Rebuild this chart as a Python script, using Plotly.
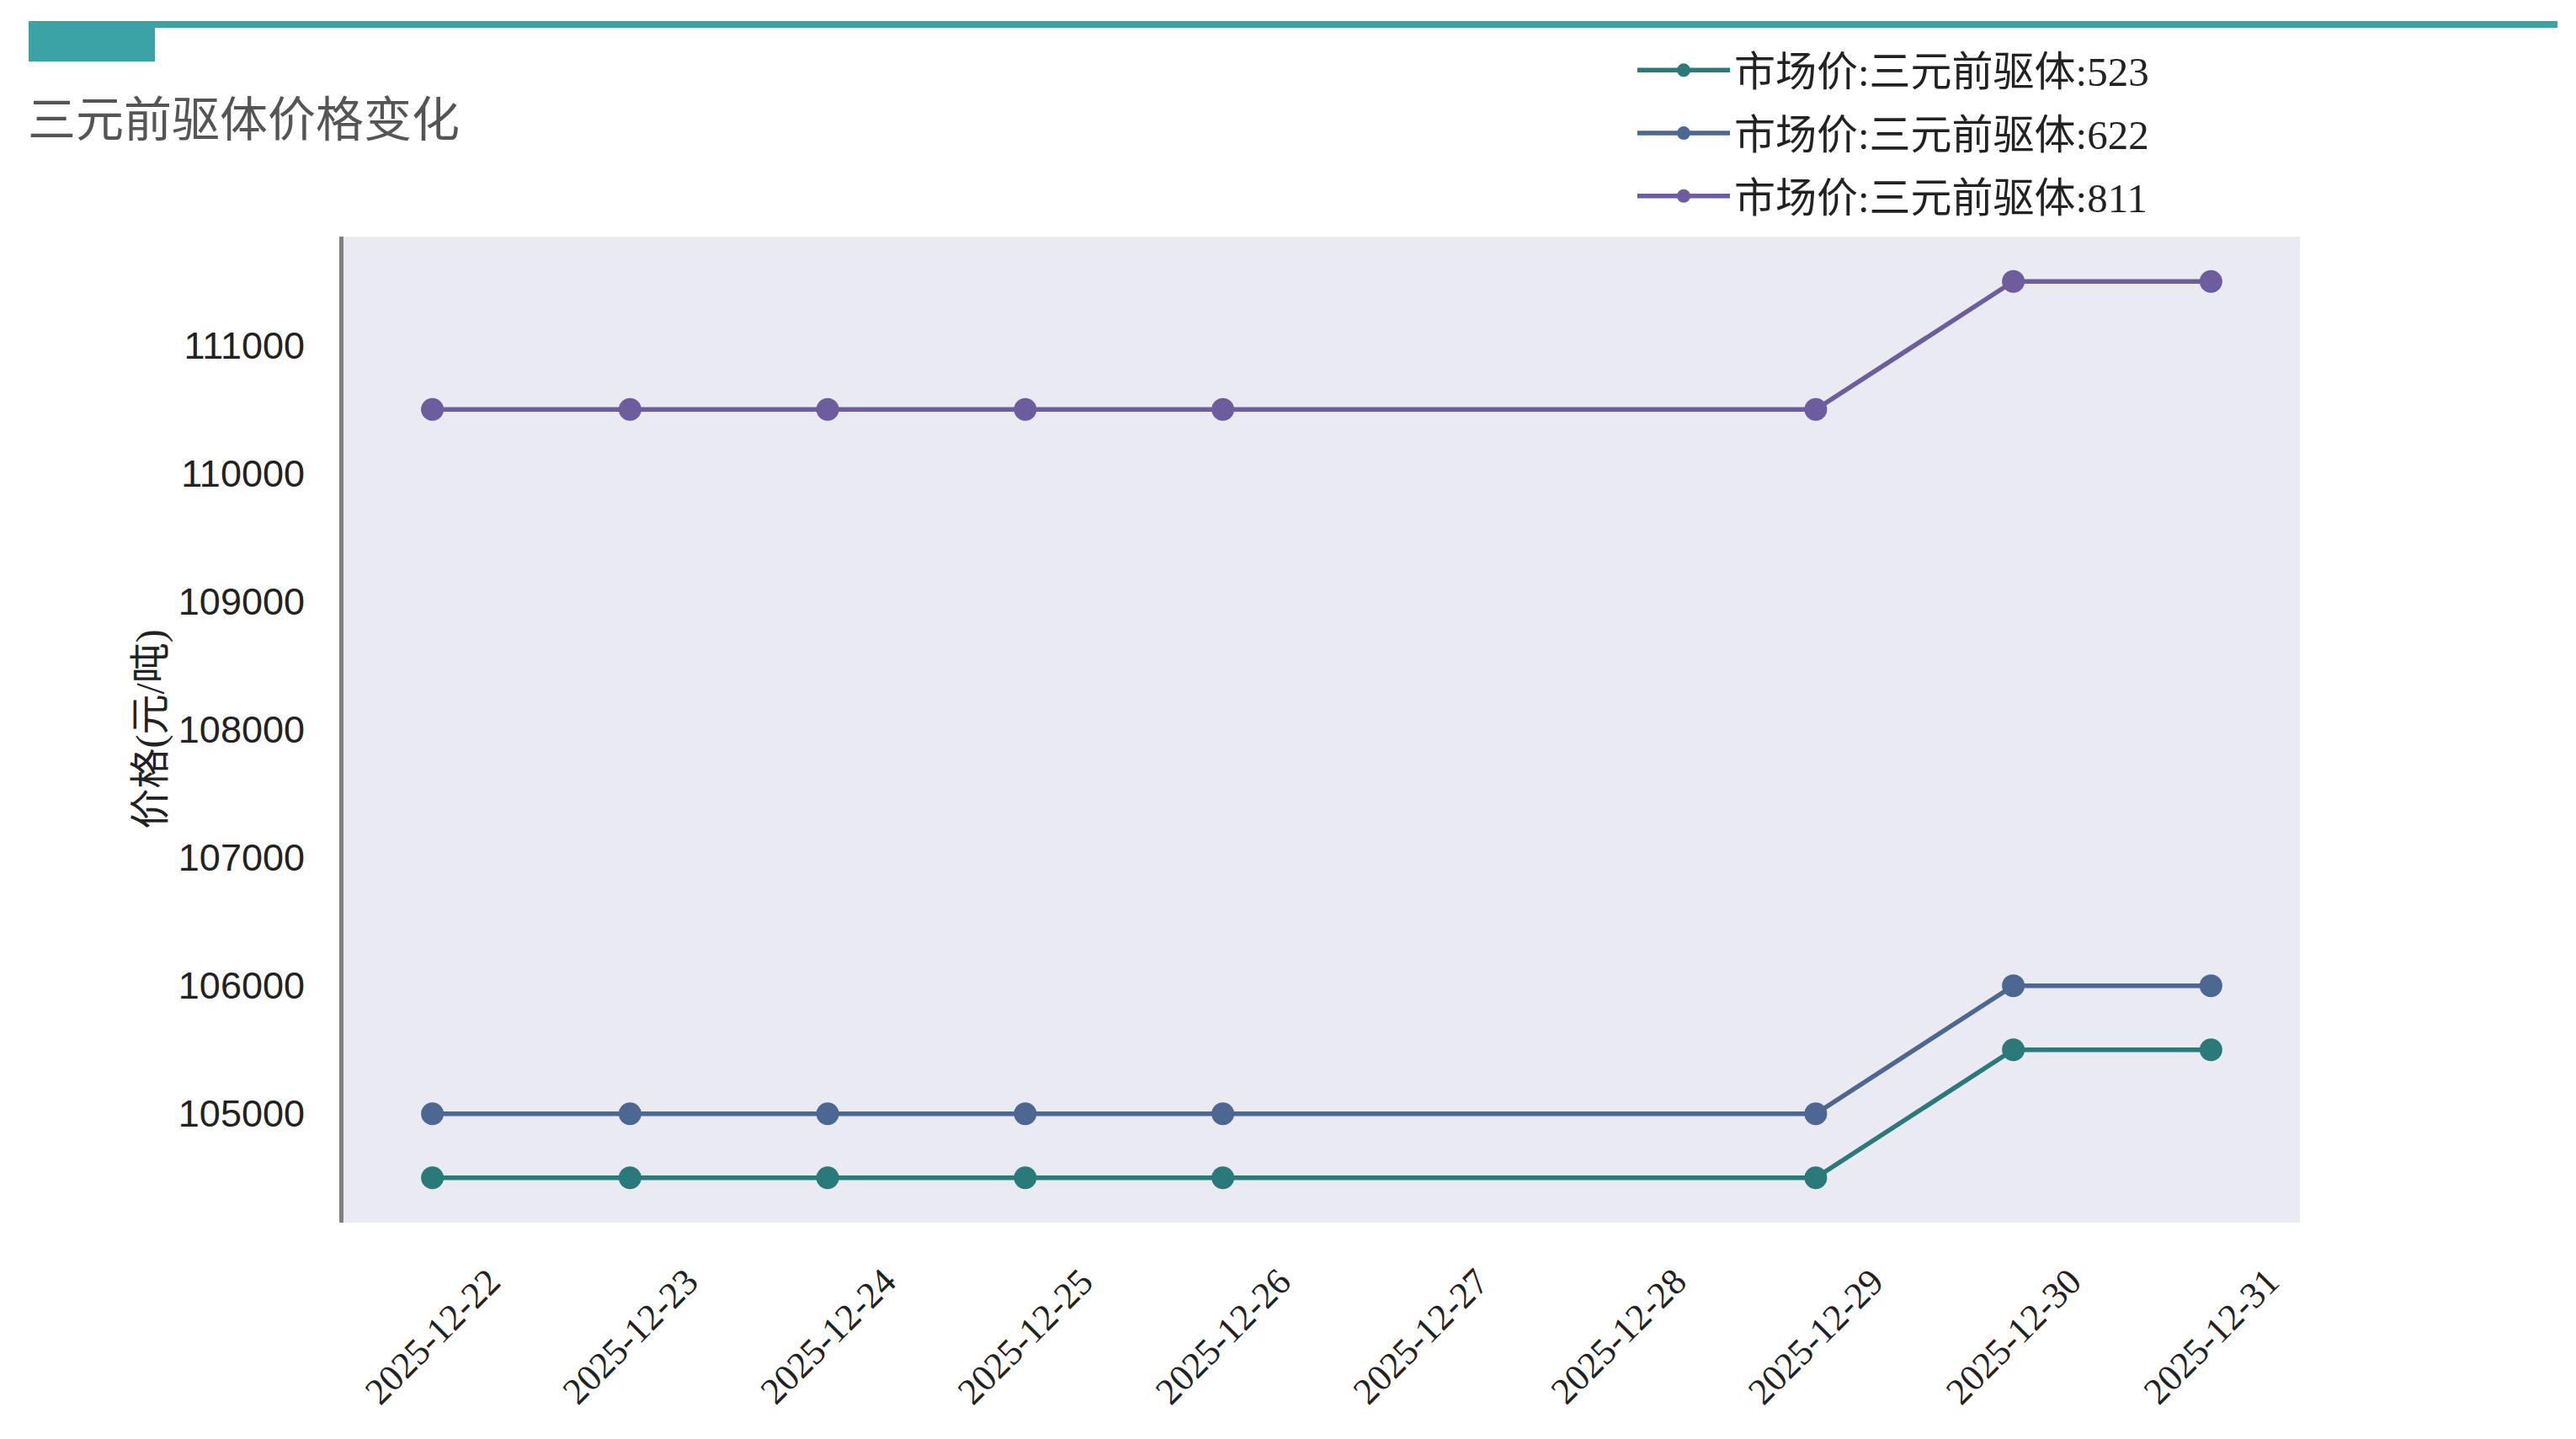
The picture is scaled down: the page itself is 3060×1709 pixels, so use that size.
import plotly.graph_objects as go

# ---- data ----
dates = ["2025-12-22", "2025-12-23", "2025-12-24", "2025-12-25", "2025-12-26",
         "2025-12-29", "2025-12-30", "2025-12-31"]
price_523 = [104500, 104500, 104500, 104500, 104500, 104500, 105500, 105500]
price_622 = [105000, 105000, 105000, 105000, 105000, 105000, 106000, 106000]
price_811 = [110500, 110500, 110500, 110500, 110500, 110500, 111500, 111500]
series_names = ["市场价:三元前驱体:523", "市场价:三元前驱体:622", "市场价:三元前驱体:811"]
series_colors = ["#2B7A7B", "#4B6792", "#6D5C9E"]
tick_dates = ["2025-12-22", "2025-12-23", "2025-12-24", "2025-12-25", "2025-12-26",
              "2025-12-27", "2025-12-28", "2025-12-29", "2025-12-30", "2025-12-31"]
y_ticks = [105000, 106000, 107000, 108000, 109000, 110000, 111000]
title_text = "三元前驱体价格变化"
y_title = "价格(元/吨)"

W, H = 3060, 1709
OX, OY = 4, 8  # page body offset
L, R, T, B = 404 - OX, 2728 - OX, 281 - OY, 1452 - OY

fig = go.Figure()
for name, vals, col in zip(series_names, [price_523, price_622, price_811], series_colors):
    fig.add_trace(go.Scatter(
        x=dates, y=vals, name=name, mode="lines+markers",
        line=dict(color=col, width=5.5),
        marker=dict(color=col, size=27),
        legendgroup=name,
    ))

serif = "Liberation Serif, Noto Sans CJK SC, serif"

fig.update_layout(
    width=W, height=H,
    margin=dict(l=0, r=0, t=0, b=0),
    paper_bgcolor="white",
    plot_bgcolor="#EAEAF2",
    showlegend=True,
    legend=dict(
        x=(1936 - OX) / W, y=1 - (45 - OY) / H, xanchor="left", yanchor="top",
        font=dict(family=serif, size=49, color="#222222"),
        bgcolor="rgba(0,0,0,0)", tracegroupgap=8, itemwidth=110,
    ),
    xaxis=dict(
        type="date",
        domain=[L / W, R / W],
        range=["2025-12-21 13:12", "2025-12-31 10:48"],
        showgrid=False, zeroline=False, showline=False,
        showticklabels=False, ticks="",
        automargin=False,
    ),
    yaxis=dict(
        domain=[1 - B / H, 1 - T / H],
        range=[104150, 111850],
        tickvals=y_ticks,
        ticktext=[str(v) for v in y_ticks],
        showgrid=False, zeroline=False,
        showline=True, linecolor="#808080", linewidth=5,
        ticks="outside", ticklen=32, tickcolor="rgba(0,0,0,0)",
        tickfont=dict(family="Liberation Sans, Arial, sans-serif", size=45, color="#222222"),
        automargin=False,
    ),
)

# rotated, centre-aligned date labels
for d in tick_dates:
    fig.add_annotation(
        x=d, xref="x", y=1 - (1587 - OY) / H, yref="paper",
        text=d, textangle=-45, showarrow=False,
        font=dict(family=serif, size=44, color="#222222"),
        xanchor="center", yanchor="middle",
    )

# y-axis title
fig.add_annotation(
    x=(174 - OX) / W, y=1 - ((T + B) / 2) / H, xref="paper", yref="paper",
    text=y_title, textangle=-90, showarrow=False,
    font=dict(family=serif, size=48, color="#222222"),
    xanchor="center", yanchor="middle",
)

# chart title
fig.add_annotation(
    x=(27 - OX) / W, y=1 - (137 - OY) / H, xref="paper", yref="paper",
    text=title_text, showarrow=False,
    font=dict(family="Noto Sans CJK SC, sans-serif", size=57, color="#555555"),
    xanchor="left", yanchor="middle",
)

# header decoration
teal = "#3BA3A6"
fig.add_shape(type="rect", xref="paper", yref="paper",
              x0=26 / W, x1=3030 / W, y0=1 - (33 - OY) / H, y1=1 - (25 - OY) / H,
              fillcolor=teal, line=dict(width=0), layer="above")
fig.add_shape(type="rect", xref="paper", yref="paper",
              x0=26 / W, x1=176 / W, y0=1 - (73 - OY) / H, y1=1 - (25 - OY) / H,
              fillcolor=teal, line=dict(width=0), layer="above")

fig.write_html("out.html")
